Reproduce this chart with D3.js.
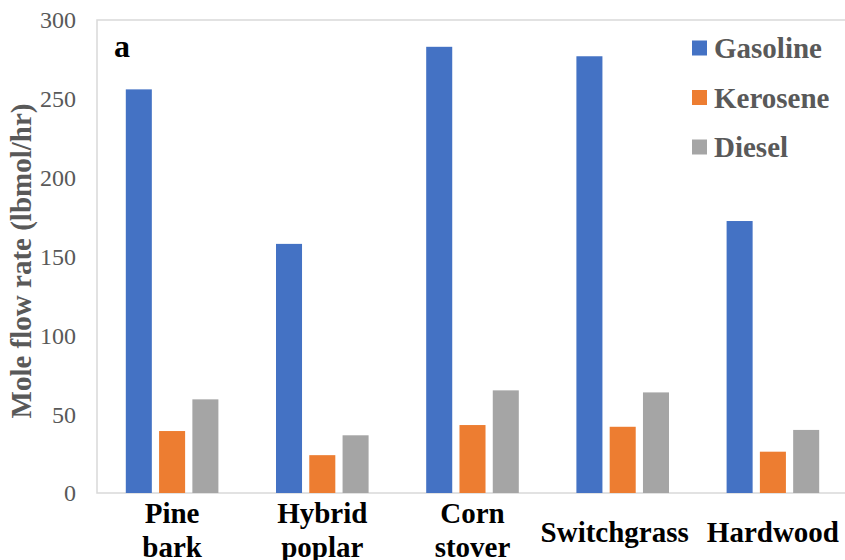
<!DOCTYPE html>
<html><head><meta charset="utf-8">
<script src="https://cdn.jsdelivr.net/npm/d3@7/dist/d3.min.js"></script>
<style>body{margin:0;background:#fff;} svg{display:block;}</style>
</head><body>
<svg id="chart" width="845" height="560"></svg>
<script>
const categories = [["Pine","bark"],["Hybrid","poplar"],["Corn","stover"],["Switchgrass"],["Hardwood"]];
const seriesNames = ["Gasoline","Kerosene","Diesel"];
const gasoline = [256, 158, 283, 277, 172.5];
const kerosene = [39.3, 24, 43.1, 42, 26.2];
const diesel = [59.4, 36.6, 65.1, 63.8, 40];
const yTicks = [0,50,100,150,200,250,300];
const colors = ["#4472C4","#ED7D31","#A5A5A5"];
const seriesValues = [gasoline, kerosene, diesel];

const svg = d3.select("#chart");
const L = 97, R = 848, T = 20, B = 493;
const font = "'Liberation Serif','Times New Roman',serif";

const x = d3.scaleBand().domain(d3.range(categories.length)).range([L, R]).paddingInner(0).paddingOuter(0);
const y = d3.scaleLinear().domain([0,300]).range([B, T]);

// plot border
svg.append("rect").attr("x", L).attr("y", T).attr("width", R-L).attr("height", B-T)
  .attr("fill","none").attr("stroke","#d9d9d9").attr("stroke-width",1.5);

const bw = x.bandwidth();
const barW = bw*0.1733, step = bw*0.2216;
const groupW = barW + 2*step;

seriesValues.forEach((vals, s) => {
  svg.append("g").selectAll("rect").data(vals).join("rect")
    .attr("x", (d,i) => x(i) + (bw-groupW)/2 + s*step)
    .attr("y", d => y(d))
    .attr("width", barW)
    .attr("height", d => B - y(d))
    .attr("fill", colors[s]);
});

// y axis ticks
const yAxis = d3.axisLeft(y).tickValues(yTicks).tickSize(0).tickPadding(0);
const gy = svg.append("g").attr("transform", `translate(76,0)`).call(yAxis);
gy.select(".domain").remove();
gy.selectAll("text").attr("font-family", font).attr("font-size", 24).attr("fill","#595959").attr("dy","0.33em");

// x labels (long single-line label nudged left like the original's auto-fit)
const gx = svg.append("g");
categories.forEach((lines, i) => {
  let cx = x(i) + bw/2;
  if (lines.length === 1 && i < categories.length - 1) cx -= 8;
  const t = gx.append("text").attr("x", cx).attr("text-anchor","middle")
    .attr("font-family", font).attr("font-weight","bold").attr("font-size",29).attr("fill","#000");
  if (lines.length === 2) {
    t.append("tspan").attr("x", cx).attr("y", 523).text(lines[0]);
    t.append("tspan").attr("x", cx).attr("y", 557).text(lines[1]);
  } else {
    t.attr("y", 542).text(lines[0]);
  }
});

// y title
svg.append("text").attr("transform","translate(31,261) rotate(-90)").attr("text-anchor","middle")
  .attr("font-family", font).attr("font-weight","bold").attr("font-size",29).attr("fill","#595959")
  .text("Mole flow rate (lbmol/hr)");

// panel letter
svg.append("text").attr("x",114).attr("y",57).attr("font-family",font).attr("font-weight","bold")
  .attr("font-size",32).attr("fill","#000").text("a");

// legend
const lg = svg.append("g");
seriesNames.forEach((n, i) => {
  const cy = 48 + i*49.5;
  lg.append("rect").attr("x",692).attr("y",cy-7.5).attr("width",15).attr("height",15).attr("fill",colors[i]);
  lg.append("text").attr("x",714).attr("y",cy+10).attr("font-family",font).attr("font-weight","bold")
    .attr("font-size",29).attr("fill","#595959").text(n);
});
</script>
</body></html>
